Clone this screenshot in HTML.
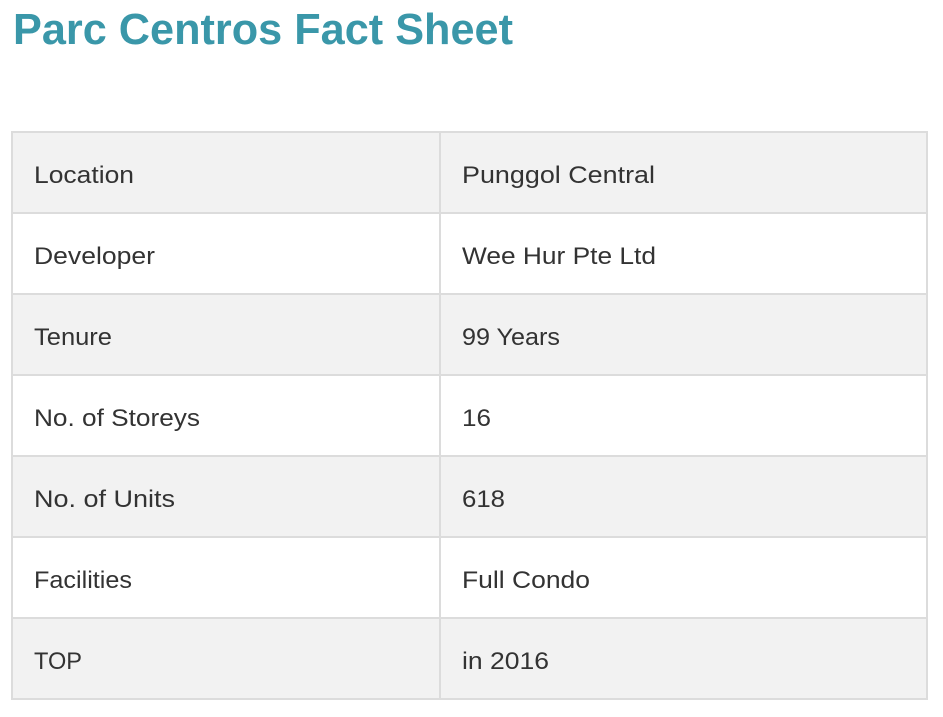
<!DOCTYPE html>
<html><head><meta charset="utf-8"><style>
html,body{margin:0;padding:0;background:#fff;width:943px;height:717px;overflow:hidden}
svg{display:block}
text{font-family:"Liberation Sans",sans-serif}
</style></head><body>
<svg width="943" height="717" viewBox="0 0 943 717" xmlns="http://www.w3.org/2000/svg">
<rect width="943" height="717" fill="#fff"/>
<text x="13" y="44" font-size="44" font-weight="bold" fill="#3a97a9" textLength="500" lengthAdjust="spacingAndGlyphs">Parc Centros Fact Sheet</text>
<rect x="12" y="132" width="915" height="81" fill="#f2f2f2"/>
<rect x="12" y="294" width="915" height="81" fill="#f2f2f2"/>
<rect x="12" y="456" width="915" height="81" fill="#f2f2f2"/>
<rect x="12" y="618" width="915" height="81" fill="#f2f2f2"/>
<g stroke="#dcdcdc" stroke-width="2" fill="none">
<rect x="12" y="132" width="915" height="567"/>
<line x1="440" y1="132" x2="440" y2="699"/>
<line x1="12" y1="213" x2="927" y2="213"/>
<line x1="12" y1="294" x2="927" y2="294"/>
<line x1="12" y1="375" x2="927" y2="375"/>
<line x1="12" y1="456" x2="927" y2="456"/>
<line x1="12" y1="537" x2="927" y2="537"/>
<line x1="12" y1="618" x2="927" y2="618"/>
</g>
<g font-size="24" fill="#333">
<text x="34" y="183" textLength="100" lengthAdjust="spacingAndGlyphs">Location</text>
<text x="462" y="183" textLength="193" lengthAdjust="spacingAndGlyphs">Punggol Central</text>
<text x="34" y="264" textLength="121" lengthAdjust="spacingAndGlyphs">Developer</text>
<text x="462" y="264" textLength="194" lengthAdjust="spacingAndGlyphs">Wee Hur Pte Ltd</text>
<text x="34" y="345" textLength="78" lengthAdjust="spacingAndGlyphs">Tenure</text>
<text x="462" y="345" textLength="98" lengthAdjust="spacingAndGlyphs">99 Years</text>
<text x="34" y="426" textLength="166" lengthAdjust="spacingAndGlyphs">No. of Storeys</text>
<text x="462" y="426" textLength="29" lengthAdjust="spacingAndGlyphs">16</text>
<text x="34" y="507" textLength="141" lengthAdjust="spacingAndGlyphs">No. of Units</text>
<text x="462" y="507" textLength="43" lengthAdjust="spacingAndGlyphs">618</text>
<text x="34" y="588" textLength="98" lengthAdjust="spacingAndGlyphs">Facilities</text>
<text x="462" y="588" textLength="128" lengthAdjust="spacingAndGlyphs">Full Condo</text>
<text x="34" y="669" textLength="48" lengthAdjust="spacingAndGlyphs">TOP</text>
<text x="462" y="669" textLength="87" lengthAdjust="spacingAndGlyphs">in 2016</text>
</g>
</svg>
</body></html>
